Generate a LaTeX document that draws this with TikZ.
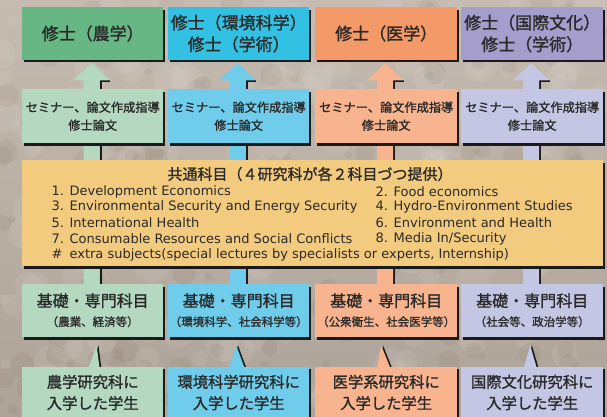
\documentclass[tikz,border=0pt]{standalone}
\usepackage{fontspec}
\setmainfont{DejaVu Sans}
\newfontfamily\jp[FakeBold=1.3]{Noto Sans CJK JP}
\newfontfamily\en{DejaVu Sans}
\usetikzlibrary{calc,shadows}
\definecolor{bgtop}{HTML}{C5BBB1}
\definecolor{bgbot}{HTML}{AEA398}
\definecolor{txt}{HTML}{2A2A2A}
\definecolor{shd}{HTML}{1A1A1A}
\definecolor{aA}{HTML}{66B783}
\definecolor{aB}{HTML}{B4D8C0}
\definecolor{bA}{HTML}{33C1E3}
\definecolor{bB}{HTML}{6FCDEB}
\definecolor{cA}{HTML}{F39A68}
\definecolor{cB}{HTML}{F7B48E}
\definecolor{dA}{HTML}{A59DCB}
\definecolor{dB}{HTML}{C4C7E3}
\definecolor{common}{HTML}{F3CB7E}
\pgfdeclarelayer{bglayer}
\pgfdeclarelayer{arrlayer}
\pgfsetlayers{bglayer,arrlayer,main}
\tikzset{
  box/.style={draw=none, inner sep=0pt, anchor=north west, text=txt, align=center,
    drop shadow={shadow xshift=2pt, shadow yshift=-2.5pt, fill=shd, opacity=1}},
  topbox/.style={box, minimum height=52.5pt, font=\jp\fontsize{17}{21.7}\selectfont},
  semibox/.style={box, minimum height=54pt, font=\jp\fontsize{12.2}{18}\selectfont},
  basebox/.style={box, minimum height=53pt},
  studbox/.style={box, minimum height=70pt},
  basemain/.style={text=txt, inner sep=0pt, font=\jp\fontsize{16}{16}\selectfont},
  basesub/.style={text=txt, inner sep=0pt, font=\jp\fontsize{11.5}{12}\selectfont},
  studtxt/.style={text=txt, inner sep=0pt, align=center, font=\jp\fontsize{15.3}{21.3}\selectfont},
  entxt/.style={text=txt, inner sep=0pt, anchor=west, font=\en\fontsize{13}{15}\selectfont},
}
\newcommand\colarrow[3]{%
  \coordinate (tip) at ($(#1.south)+(-1,3.5)$);
  \coordinate (bot) at ($(#2.north)+(-1,4)$);
  \fill[shd] ($(tip)+(8,17)$) rectangle ($(tip|-bot)+(10,0)$);
  \fill[shd] ($(tip)+(8,17)$) rectangle ($(tip)+(18.5,19)$);
  \fill[#3] (tip) -- ($(tip)+(18.5,17)$) -- ($(tip)+(8,17)$) -- ($(tip|-bot)+(8,0)$)
    -- ($(tip|-bot)+(-8,0)$) -- ($(tip)+(-8,17)$) -- ($(tip)+(-18.5,17)$) -- cycle;
}
\newcommand\feedtri[6]{%
  \coordinate (apx) at ($(#1.south)+(#4,8)$);
  \coordinate (bl) at ($(#2.north)+(#5,3)$);
  \coordinate (br) at ($(#2.north)+(#6,3)$);
  \fill[shd] ($(apx)+(1.8,0)$) -- ($(br)+(1.8,0)$) -- ($(bl)+(1.8,0)$) -- cycle;
  \fill[#3] (apx) -- (br) -- (bl) -- cycle;
}
\begin{document}
\begin{tikzpicture}[x=1pt, y=-1pt]
\useasboundingbox (0,0) rectangle (607,416);
\clip (0,0) rectangle (607,416);
\begin{pgfonlayer}{bglayer}
  \shade[top color=bgtop, bottom color=bgbot] (0,0) rectangle (607,416);
  \pgfmathsetseed{7}
  \foreach \i in {1,...,260}{
    \pgfmathsetmacro\px{rnd*607}
    \pgfmathsetmacro\py{rnd*416}
    \pgfmathsetmacro\pr{4+rnd*14}
    \fill[white, opacity=0.07] (\px,\py) circle (\pr);
  }
  \foreach \i in {1,...,220}{
    \pgfmathsetmacro\px{rnd*607}
    \pgfmathsetmacro\py{rnd*416}
    \pgfmathsetmacro\pr{3+rnd*10}
    \fill[black!60!brown, opacity=0.06] (\px,\py) circle (\pr);
  }
\end{pgfonlayer}

% top row
\node[topbox, fill=aA, minimum width=141pt] (t1) at (22,7) {修士（農学）};
\node[topbox, fill=bA, minimum width=141pt] (t2) at (168,7) {修士（環境科学）\\修士（学術）};
\node[topbox, fill=cA, minimum width=142pt] (t3) at (315,7) {修士（医学）};
\node[topbox, fill=dA, minimum width=142pt] (t4) at (461,7) {修士（国際文化）\\修士（学術）};

% seminar row
\node[semibox, fill=aB, minimum width=141pt] (m1) at (22,89) {セミナー、論文作成指導\\修士論文};
\node[semibox, fill=bB, minimum width=141pt] (m2) at (168,89) {セミナー、論文作成指導\\修士論文};
\node[semibox, fill=cB, minimum width=142pt] (m3) at (315,89) {セミナー、論文作成指導\\修士論文};
\node[semibox, fill=dB, minimum width=142pt] (m4) at (461,89) {セミナー、論文作成指導\\修士論文};

% common subjects
\node[box, fill=common, minimum width=581pt, minimum height=106pt] (cm) at (22,160) {};
\node[text=txt, inner sep=0pt, font=\jp\fontsize{15}{15}\selectfont] (cmt) at (310,174) {共通科目（４研究科が各２科目づつ提供）};
\node[entxt] (e1) at (51.5,191.7) {1. Development Economics};
\node[entxt] (e2) at (375.5,191.7) {2. Food economics};
\node[entxt] (e3) at (51.5,207.4) {3. Environmental Security and Energy Security};
\node[entxt] (e4) at (375.5,207.4) {4. Hydro-Environment Studies};
\node[entxt] (e5) at (51.5,223.1) {5. International Health};
\node[entxt] (e6) at (375.5,223.1) {6. Environment and Health};
\node[entxt] (e7) at (51.5,238.8) {7. Consumable Resources and Social Conflicts};
\node[entxt] (e8) at (375.5,238.8) {8. Media In/Security};
\node[entxt] (e9) at (51.5,254.5) {\#\hspace{7pt}extra subjects(special lectures by specialists or experts, Internship)};

% base row
\node[basebox, fill=aB, minimum width=141pt] (b1) at (22,284) {};
\node[basebox, fill=bB, minimum width=141pt] (b2) at (168,284) {};
\node[basebox, fill=cB, minimum width=142pt] (b3) at (315,284) {};
\node[basebox, fill=dB, minimum width=142pt] (b4) at (461,284) {};
\node[basemain] (b1a) at ($(b1.north)+(0,16.7)$) {基礎・専門科目};
\node[basemain] (b2a) at ($(b2.north)+(0,16.7)$) {基礎・専門科目};
\node[basemain] (b3a) at ($(b3.north)+(0,16.7)$) {基礎・専門科目};
\node[basemain] (b4a) at ($(b4.north)+(0,16.7)$) {基礎・専門科目};
\node[basesub] (b1b) at ($(b1.north)+(0,37.7)$) {（農業、経済等）};
\node[basesub] (b2b) at ($(b2.north)+(0,37.7)$) {（環境科学、社会科学等）};
\node[basesub] (b3b) at ($(b3.north)+(0,37.7)$) {（公衆衛生、社会医学等）};
\node[basesub] (b4b) at ($(b4.north)+(0,37.7)$) {（社会等、政治学等）};

% student row
\node[studbox, fill=aB, minimum width=141pt] (s1) at (22,366.5) {};
\node[studbox, fill=bB, minimum width=141pt] (s2) at (168,366.5) {};
\node[studbox, fill=cB, minimum width=142pt] (s3) at (315,366.5) {};
\node[studbox, fill=dB, minimum width=142pt] (s4) at (461,366.5) {};
\node[studtxt] (s1t) at ($(s1.north)+(0,26)$) {農学研究科に\\入学した学生};
\node[studtxt] (s2t) at ($(s2.north)+(0,26)$) {環境科学研究科に\\入学した学生};
\node[studtxt] (s3t) at ($(s3.north)+(0,26)$) {医学系研究科に\\入学した学生};
\node[studtxt] (s4t) at ($(s4.north)+(0,26)$) {国際文化研究科に\\入学した学生};

\begin{pgfonlayer}{arrlayer}
  \colarrow{t1}{b1}{aB}
  \colarrow{t2}{b2}{bB}
  \colarrow{t3}{b3}{cB}
  \colarrow{t4}{b4}{dB}
  \feedtri{b1}{s1}{aB}{4}{-5}{7}
  \feedtri{b2}{s2}{bB}{-2.5}{-10}{6.5}
  \feedtri{b3}{s3}{cB}{-5}{-9.5}{4.7}
  \feedtri{b4}{s4}{dB}{-2}{-9}{5}
\end{pgfonlayer}
\end{tikzpicture}
\end{document}
